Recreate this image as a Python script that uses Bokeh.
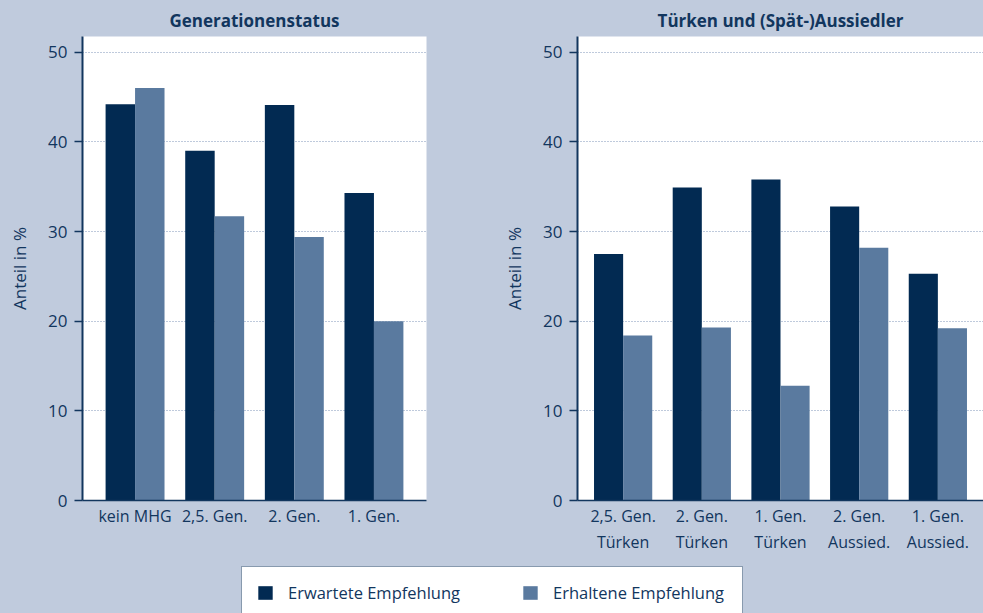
from bokeh.plotting import figure
from bokeh.models import FactorRange, Range1d, FixedTicker, Legend, LegendItem, ColumnDataSource
from bokeh.layouts import column, row
from bokeh.transform import dodge
from bokeh.embed import file_html
from bokeh.resources import INLINE

# ---- data ----
series = ["Erwartete Empfehlung", "Erhaltene Empfehlung"]
y_ticks = [0, 10, 20, 30, 40, 50]

gen_title = "Generationenstatus"
gen_categories = ["kein MHG", "2,5. Gen.", "2. Gen.", "1. Gen."]
gen_expected = [44.2, 39.0, 44.1, 34.3]
gen_received = [46.0, 31.7, 29.4, 20.0]

grp_title = "Türken und (Spät-)Aussiedler"
grp_categories = ["2,5. Gen.\nTürken", "2. Gen.\nTürken", "1. Gen.\nTürken",
                  "2. Gen.\nAussied.", "1. Gen.\nAussied."]
grp_expected = [27.5, 34.9, 35.8, 32.8, 25.3]
grp_received = [18.4, 19.3, 12.8, 28.2, 19.2]

# ---- style ----
DARK = "#022a52"
LIGHT = "#5a7a9f"
BG = "#c0cbdd"
INK = "#12365e"
GRID = "#7f95b8"
FONT = "Open Sans"
Y_END = 51.75
BAR_W = 0.37
BGSTYLE = {"background-color": BG}


def make_panel(title, cats, exp, rec, width, b_left, b_right, pad):
    src = ColumnDataSource(dict(cat=cats, exp=exp, rec=rec))
    xr = FactorRange(factors=cats, range_padding=pad, range_padding_units="absolute")
    p = figure(x_range=xr, y_range=Range1d(0, Y_END), width=width, height=560,
               output_backend="svg", toolbar_location=None, title=title,
               min_border_left=b_left, min_border_right=b_right,
               min_border_top=36, min_border_bottom=60, styles=BGSTYLE)
    p.vbar(x=dodge("cat", -BAR_W / 2, range=xr), top="exp", width=BAR_W, source=src,
           fill_color=DARK, line_color=None)
    p.vbar(x=dodge("cat", BAR_W / 2, range=xr), top="rec", width=BAR_W, source=src,
           fill_color=LIGHT, line_color=None)

    p.background_fill_color = "white"
    p.border_fill_color = BG
    p.outline_line_color = None

    p.title.align = "center"
    p.title.text_font = FONT
    p.title.text_font_style = "bold"
    p.title.text_font_size = "17px"
    p.title.text_color = INK
    p.title.standoff = 10

    p.yaxis.ticker = FixedTicker(ticks=y_ticks)
    p.yaxis.axis_label = "Anteil in %"
    p.yaxis.axis_label_text_font = FONT
    p.yaxis.axis_label_text_font_style = "normal"
    p.yaxis.axis_label_text_font_size = "17px"
    p.yaxis.axis_label_text_color = INK
    p.yaxis.axis_label_standoff = 14
    p.yaxis.major_label_text_font = FONT
    p.yaxis.major_label_text_font_size = "17px"
    p.yaxis.major_label_text_color = INK
    p.yaxis.major_label_standoff = 7
    p.yaxis.major_tick_out = 8
    p.yaxis.major_tick_in = 0
    p.yaxis.minor_tick_out = 0
    p.yaxis.minor_tick_in = 0
    p.yaxis.axis_line_color = INK
    p.yaxis.axis_line_width = 2
    p.yaxis.major_tick_line_color = INK
    p.yaxis.major_tick_line_width = 1.5

    p.xaxis.major_tick_out = 0
    p.xaxis.major_tick_in = 0
    p.xaxis.axis_line_color = INK
    p.xaxis.axis_line_width = 1.5
    p.xaxis.major_label_text_font = FONT
    p.xaxis.major_label_text_font_size = "16px"
    p.xaxis.major_label_text_color = INK
    p.xaxis.major_label_standoff = 4

    p.xgrid.grid_line_color = None
    p.ygrid.ticker = FixedTicker(ticks=y_ticks)
    p.ygrid.grid_line_color = GRID
    p.ygrid.grid_line_dash = "1 2"
    p.ygrid.grid_line_width = 1
    return p, src


left, left_src = make_panel(gen_title, gen_categories, gen_expected, gen_received, 500, 82, 74, 0.16)
right, right_src = make_panel(grp_title, grp_categories, grp_expected, grp_received, 483, 77, 0, 0.08)

# ---- legend strip ----
lg_xr = FactorRange(factors=gen_categories)
lg = figure(width=983, height=53, x_range=lg_xr, y_range=Range1d(0, Y_END),
            output_backend="svg", toolbar_location=None, min_border=0,
            x_axis_type=None, y_axis_type=None, styles=BGSTYLE)
lg.background_fill_color = BG
lg.border_fill_color = BG
lg.outline_line_color = None
lg.grid.visible = False
r1 = lg.vbar(x=dodge("cat", -BAR_W / 2, range=lg_xr), top="exp", width=BAR_W,
             source=left_src, fill_color=DARK, line_color=None, visible=False)
r2 = lg.vbar(x=dodge("cat", BAR_W / 2, range=lg_xr), top="rec", width=BAR_W,
             source=left_src, fill_color=LIGHT, line_color=None, visible=False)
legend = Legend(items=[LegendItem(label=series[0], renderers=[r1]),
                       LegendItem(label=series[1], renderers=[r2])],
                orientation="horizontal", location=(241, -6),
                padding=14, spacing=58, margin=0,
                glyph_width=18, glyph_height=17, label_standoff=14,
                label_width=175, label_height=20,
                label_text_font=FONT, label_text_font_size="16.5px", label_text_color=INK,
                border_line_color=INK, border_line_width=1,
                background_fill_color="white", background_fill_alpha=1,
                inactive_fill_alpha=0, click_policy="none")
lg.add_layout(legend)

layout = column(row(left, right, spacing=0, styles=BGSTYLE), lg, spacing=0, styles=BGSTYLE)

open("out.html", "w").write(file_html(layout, INLINE))
